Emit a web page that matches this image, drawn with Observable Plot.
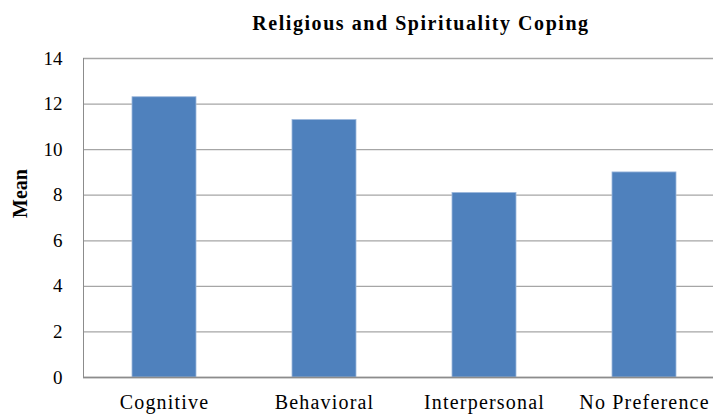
<!DOCTYPE html>
<html>
<head>
<meta charset="utf-8">
<script src="https://cdn.jsdelivr.net/npm/d3@7"></script>
<script src="https://cdn.jsdelivr.net/npm/@observablehq/plot@0.6"></script>
<style>
  html, body { margin: 0; padding: 0; background: #fff; }
  #wrap { position: relative; width: 713px; height: 414px; overflow: hidden; background: #fff; }
  #chart { position: absolute; top: 0; left: 0; width: 725px; }
  #chart svg { max-width: none !important; }
  #title {
    position: absolute; top: 13px; left: 421px; transform: translateX(-50%); z-index: 2;
    white-space: nowrap; font-family: "Liberation Serif", "Times New Roman", serif;
    font-weight: bold; font-size: 20px; line-height: 20px; letter-spacing: 1.55px; color: #000;
  }
  #chart svg text { font-family: "Liberation Serif", "Times New Roman", serif; }
  #chart svg g[aria-label="x-axis tick label"] text { letter-spacing: 1.2px; }
</style>
</head>
<body>
<div id="wrap">
  <div id="chart"></div>
  <div id="title">Religious and Spirituality Coping</div>
</div>
<script>
const categories = ["Cognitive", "Behavioral", "Interpersonal", "No Preference"];
const means = [12.3, 11.3, 8.1, 9.0];
const yTicks = [0, 2, 4, 6, 8, 10, 12, 14];
const yLabel = "Mean";

const data = categories.map((c, i) => ({category: c, mean: means[i]}));

const font = "'Liberation Serif', 'Times New Roman', serif";

const chart = Plot.plot({
  width: 725,
  height: 414,
  marginLeft: 83,
  marginRight: 0,
  marginTop: 58,
  marginBottom: 37,
  style: {fontFamily: font, fontSize: "19px", color: "#000", background: "transparent", overflow: "visible", maxWidth: "none"},
  x: {domain: categories, paddingInner: 0.6, paddingOuter: 0.3},
  y: {domain: [0, 14]},
  marks: [
    Plot.gridY(yTicks, {stroke: "#a6a6a6", strokeOpacity: 1, strokeWidth: 1.3}),
    Plot.barY(data, {x: "category", y: "mean", fill: "#4f81bd", stroke: "#9db8dc", strokeWidth: 0.8}),
    Plot.frame({anchor: "left", stroke: "#8c8c8c"}),
    Plot.ruleY([0], {stroke: "#8c8c8c", strokeWidth: 1.3}),
    Plot.axisY({ticks: yTicks, tickSize: 0, tickPadding: 21, label: null, fontSize: 19, fontFamily: font}),
    Plot.axisX({tickSize: 0, tickPadding: 17, label: null, fontSize: 20, fontFamily: font}),
    Plot.text([yLabel], {frameAnchor: "left", dx: -63, rotate: -90, text: d => d,
      fontWeight: "bold", fontSize: 20, fontFamily: font, fill: "#000"})
  ]
});

document.getElementById("chart").appendChild(chart);
</script>
</body>
</html>
